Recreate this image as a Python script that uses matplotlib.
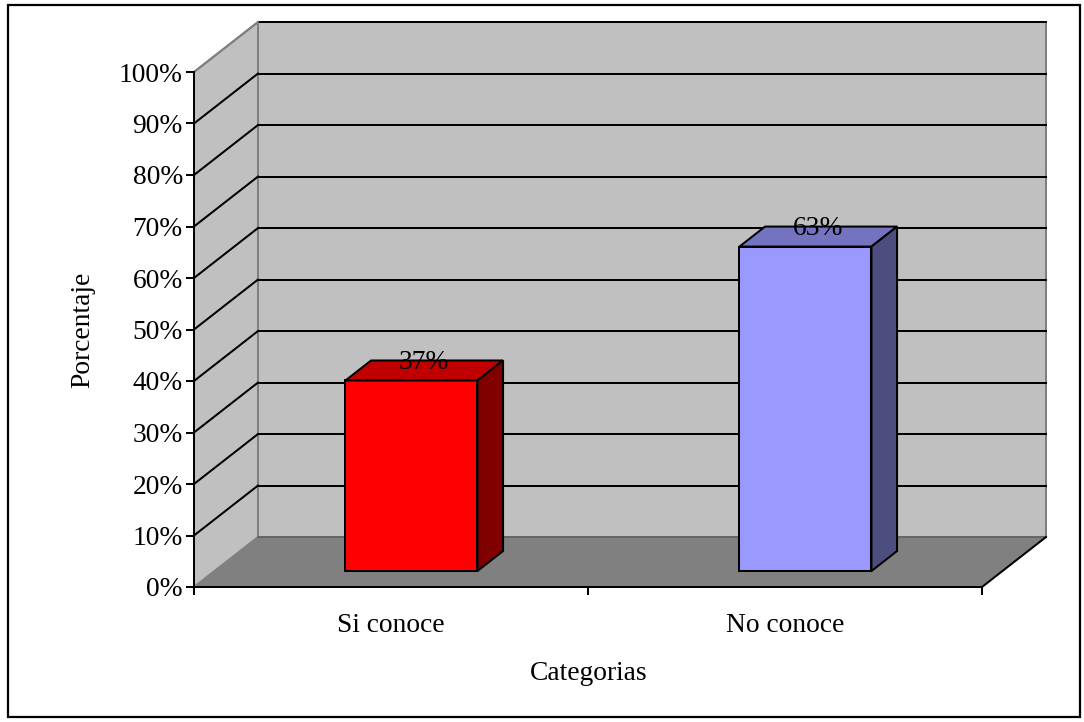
import matplotlib.pyplot as plt
from matplotlib.patches import Polygon, Rectangle

# datos
categorias = ["Si conoce", "No conoce"]
porcentajes = [37, 63]
ticks_y = list(range(0, 101, 10))
colores = [("#FF0000", "#C00000", "#800000"),
           ("#9999FF", "#7373BF", "#4D4D80")]

plt.rcParams['font.family'] = ['Liberation Serif', 'DejaVu Serif']
FS = 19.8

# profundidad del efecto 3D (en unidades de datos)
DX = 0.1624
DY = 9.7
F0, F1 = 0.32, 0.72   # cara frontal / trasera de las barras
ANCHO = 0.335
LW = 1.45

W, H = 1084, 722
fig = plt.figure(figsize=(W / 100, H / 100), dpi=100)
ax = fig.add_axes([194 / W, (H - 587) / H, 788 / W, 515 / H])
ax.set_xlim(0, len(categorias))
ax.set_ylim(0, 100)

# paredes y piso
ax.add_patch(Rectangle((DX, DY), len(categorias), 100, fc="#C0C0C0",
                       ec="#808080", lw=LW, zorder=1, clip_on=False))
ax.add_patch(Polygon([(0, 0), (DX, DY), (DX, 100 + DY), (0, 100)],
                     fc="#C0C0C0", ec="#808080", lw=LW, zorder=1, clip_on=False))
n = len(categorias)
ax.add_patch(Polygon([(0, 0), (n, 0), (n + DX, DY), (DX, DY)],
                     fc="#808080", ec="none", zorder=1, clip_on=False))
ax.plot([DX, n + DX], [DY, DY], color="#666666", lw=LW, zorder=1.2, clip_on=False)
ax.plot([n, n + DX], [0, DY], color="black", lw=LW, zorder=1.2, clip_on=False)

# lineas de division
for v in ticks_y[1:]:
    ax.plot([DX, n + DX], [v + DY, v + DY], color="black", lw=LW,
            zorder=1.5, clip_on=False)
    col = "black" if v < 100 else "#808080"
    ax.plot([0, DX], [v, v + DY], color=col, lw=LW, zorder=1.5, clip_on=False)

# barras
ddx = (F1 - F0) * DX
ddy = (F1 - F0) * DY
for i, (v, (cf, ct, cs)) in enumerate(zip(porcentajes, colores)):
    x0 = i + 0.5 - ANCHO / 2 + F0 * DX
    y0 = F0 * DY
    ax.add_patch(Rectangle((x0, y0), ANCHO, v, fc=cf, ec="black", lw=LW,
                           zorder=3, clip_on=False))
    ax.add_patch(Polygon([(x0, y0 + v), (x0 + ANCHO, y0 + v),
                          (x0 + ANCHO + ddx, y0 + v + ddy), (x0 + ddx, y0 + v + ddy)],
                         fc=ct, ec="black", lw=LW, zorder=3, clip_on=False))
    ax.add_patch(Polygon([(x0 + ANCHO, y0), (x0 + ANCHO + ddx, y0 + ddy),
                          (x0 + ANCHO + ddx, y0 + v + ddy), (x0 + ANCHO, y0 + v)],
                         fc=cs, ec="black", lw=LW, zorder=3, clip_on=False))
    ax.text(i + 0.5 + 0.52 * DX, v + 0.52 * DY + 1.5, f"{v}%", fontsize=FS,
            ha="center", va="center", zorder=4)

# ejes
for s in ["top", "right"]:
    ax.spines[s].set_visible(False)
for s in ["left", "bottom"]:
    ax.spines[s].set_linewidth(LW)
    ax.spines[s].set_zorder(2)
ax.set_facecolor("none")
ax.set_yticks(ticks_y)
ax.set_yticklabels([f"{v}%" for v in ticks_y], fontsize=FS)
ax.tick_params(axis="y", direction="out", length=6, width=LW, pad=2)
ax.set_xticks(range(n + 1))
ax.set_xticklabels([])
ax.tick_params(axis="x", direction="out", length=6, width=LW)
for i, c in enumerate(categorias):
    ax.text(i + 0.5, -0.0874, c, transform=ax.get_xaxis_transform(),
            fontsize=FS, ha="center", va="baseline")

ax.text(0.501, -0.1806, "Categorias", transform=ax.transAxes, fontsize=FS,
        ha="center", va="baseline")
ax.text(-0.141, 0.5, "Porcentaje", transform=ax.transAxes, fontsize=FS,
        ha="center", va="center", rotation=90)

# marco exterior
fig.add_artist(Rectangle((8 / W, 5 / H), 1072 / W, 712 / H, fill=False,
                         ec="black", lw=1.6, transform=fig.transFigure))

fig.savefig("out.png", dpi=100)
